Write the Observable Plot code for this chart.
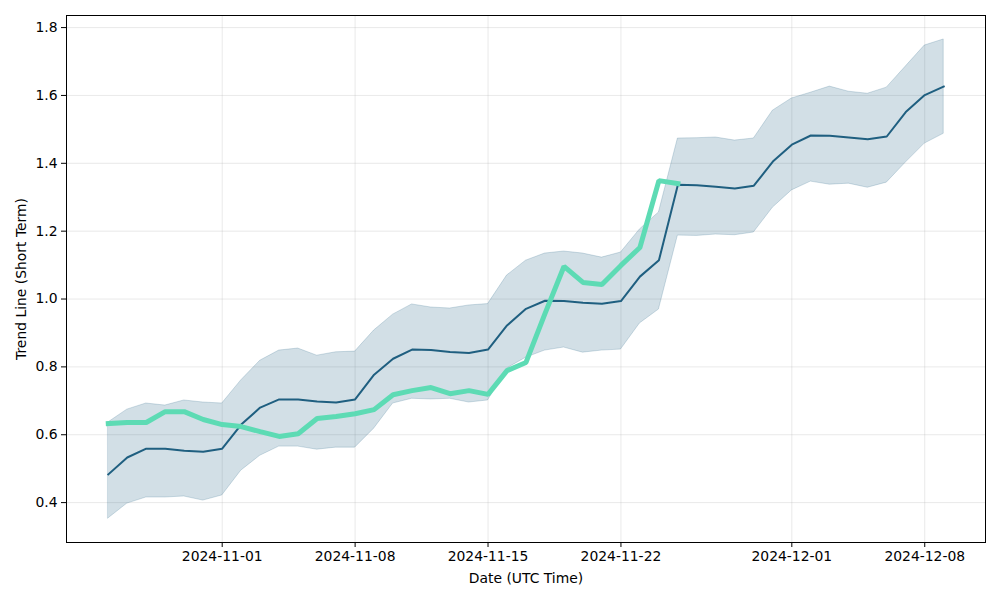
<!DOCTYPE html>
<html>
<head>
<meta charset="utf-8">
<script src="https://cdn.jsdelivr.net/npm/d3@7"></script>
<script src="https://cdn.jsdelivr.net/npm/@observablehq/plot@0.6"></script>
<style>
  html, body { margin: 0; padding: 0; background: #fff; }
  #chart svg { font-family: "DejaVu Sans", sans-serif; }
</style>
</head>
<body>
<div id="chart"></div>
<script>
const dates = [
  "2024-10-26","2024-10-27","2024-10-28","2024-10-29","2024-10-30","2024-10-31","2024-11-01",
  "2024-11-02","2024-11-03","2024-11-04","2024-11-05","2024-11-06","2024-11-07","2024-11-08",
  "2024-11-09","2024-11-10","2024-11-11","2024-11-12","2024-11-13","2024-11-14","2024-11-15",
  "2024-11-16","2024-11-17","2024-11-18","2024-11-19","2024-11-20","2024-11-21","2024-11-22",
  "2024-11-23","2024-11-24","2024-11-25","2024-11-26","2024-11-27","2024-11-28","2024-11-29",
  "2024-11-30","2024-12-01","2024-12-02","2024-12-03","2024-12-04","2024-12-05","2024-12-06",
  "2024-12-07","2024-12-08","2024-12-09"
];
const trend = [
  0.483,0.533,0.559,0.559,0.553,0.550,0.559,
  0.630,0.680,0.704,0.704,0.698,0.695,0.704,
  0.777,0.824,0.851,0.850,0.844,0.841,0.851,
  0.922,0.971,0.995,0.994,0.989,0.986,0.994,
  1.066,1.114,1.337,1.335,1.331,1.326,1.334,
  1.405,1.455,1.482,1.481,1.476,1.471,1.479,
  1.551,1.601,1.626
];
const upper = [
  0.636,0.674,0.692,0.686,0.701,0.695,0.692,
  0.760,0.818,0.848,0.854,0.833,0.843,0.845,
  0.907,0.954,0.984,0.975,0.972,0.981,0.985,
  1.069,1.113,1.134,1.140,1.134,1.122,1.137,
  1.205,1.255,1.473,1.474,1.476,1.467,1.473,
  1.555,1.591,1.608,1.626,1.611,1.605,1.623,
  1.685,1.747,1.765
];
const lower = [
  0.353,0.397,0.415,0.415,0.418,0.406,0.421,
  0.494,0.538,0.565,0.565,0.556,0.562,0.562,
  0.618,0.692,0.706,0.704,0.706,0.695,0.701,
  0.795,0.827,0.848,0.857,0.842,0.848,0.851,
  0.928,0.969,1.187,1.186,1.190,1.188,1.196,
  1.269,1.320,1.346,1.337,1.340,1.328,1.343,
  1.402,1.458,1.487
];
const actual = [
  0.633,0.636,0.636,0.668,0.668,0.645,0.630,
  0.624,0.609,0.595,0.603,0.648,0.654,0.662,
  0.674,0.718,0.730,0.739,0.721,0.730,0.719,
  0.789,0.813,0.957,1.096,1.049,1.043,1.099,
  1.152,1.349,1.340
];
const xTicks = ["2024-11-01","2024-11-08","2024-11-15","2024-11-22","2024-12-01","2024-12-08"];
const yTicks = [0.4,0.6,0.8,1.0,1.2,1.4,1.6,1.8];

const parse = d3.utcParse("%Y-%m-%d");
const rows = dates.map((d, i) => ({date: parse(d), trend: trend[i], upper: upper[i], lower: lower[i]}));
const actualRows = actual.map((v, i) => ({date: parse(dates[i]), value: v}));
const xTickDates = xTicks.map(parse);

const dark = "#1f5f80";
const green = "#5ddbb4";
const fmt = d3.utcFormat("%Y-%m-%d");

const chart = Plot.plot({
  width: 1000,
  height: 600,
  marginLeft: 66,
  marginRight: 15,
  marginTop: 15,
  marginBottom: 58,
  style: {fontFamily: "DejaVu Sans, sans-serif", fontSize: "13.9px", color: "#000", background: "#fff"},
  x: {type: "utc", domain: [new Date(Date.UTC(2024, 9, 23, 19, 12)), new Date(Date.UTC(2024, 11, 11, 4, 48))]},
  y: {domain: [0.2824, 1.8356]},
  marks: [
    Plot.gridX(xTickDates, {stroke: "#b0b0b0", strokeOpacity: 0.35, strokeWidth: 0.8}),
    Plot.gridY(yTicks, {stroke: "#b0b0b0", strokeOpacity: 0.35, strokeWidth: 0.8}),
    Plot.areaY(rows, {x: "date", y1: "lower", y2: "upper", fill: dark, fillOpacity: 0.2, stroke: dark, strokeOpacity: 0.2, strokeWidth: 1}),
    Plot.line(rows, {x: "date", y: "trend", stroke: dark, strokeWidth: 2, strokeLinecap: "square"}),
    Plot.line(actualRows, {x: "date", y: "value", stroke: green, strokeWidth: 5, strokeLinejoin: "miter", strokeLinecap: "square"}),
    Plot.axisX(xTickDates, {tickFormat: fmt, tickSize: 5, tickPadding: 4, fontSize: 13.9, label: "Date (UTC Time)", labelAnchor: "center", labelArrow: "none", labelOffset: 40}),
    Plot.axisY(yTicks, {tickFormat: d => d.toFixed(1), tickSize: 5, tickPadding: 4, fontSize: 13.9, label: "Trend Line (Short Term)", labelAnchor: "center", labelArrow: "none", labelOffset: 50}),
    Plot.frame({stroke: "#000", strokeWidth: 1})
  ]
});
document.getElementById("chart").appendChild(chart);
</script>
</body>
</html>
